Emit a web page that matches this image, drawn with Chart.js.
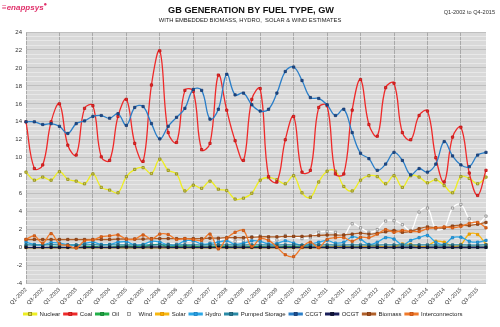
<!DOCTYPE html>
<html><head><meta charset="utf-8">
<script src="https://cdn.jsdelivr.net/npm/chart.js@4.4.1/dist/chart.umd.min.js"></script>
<style>
html,body{margin:0;padding:0;background:#fff;}
#wrap{position:relative;width:500px;height:327px;font-family:"Liberation Sans",Arial,sans-serif;}
#c{position:absolute;left:0;top:0;}
.t{position:absolute;white-space:nowrap;}
</style></head>
<body><div id="wrap">
<canvas id="c" width="500" height="327"></canvas>
<div class="t" style="left:0;top:5px;width:502px;text-align:center;font-size:9.2px;font-weight:bold;color:#111;">GB GENERATION BY FUEL TYPE, GW</div>
<div class="t" style="left:0;top:16.5px;width:500px;text-align:center;font-size:5.8px;color:#222;">WITH EMBEDDED BIOMASS, HYDRO,&nbsp; SOLAR &amp; WIND ESTIMATES</div>
<div class="t" style="right:5px;top:8.5px;font-size:5.6px;color:#333;">Q1-2002 to Q4-2015</div>
<div class="t" style="left:2px;top:1px;font-size:8px;font-weight:bold;color:#e0306a;font-style:italic;">&#8801;enappsys<span style="font-size:6px;vertical-align:super;">&#9679;</span></div>
</div>
<script>
const categories = ["Q1-2002","Q2-2002","Q3-2002","Q4-2002","Q1-2003","Q2-2003","Q3-2003","Q4-2003","Q1-2004","Q2-2004","Q3-2004","Q4-2004","Q1-2005","Q2-2005","Q3-2005","Q4-2005","Q1-2006","Q2-2006","Q3-2006","Q4-2006","Q1-2007","Q2-2007","Q3-2007","Q4-2007","Q1-2008","Q2-2008","Q3-2008","Q4-2008","Q1-2009","Q2-2009","Q3-2009","Q4-2009","Q1-2010","Q2-2010","Q3-2010","Q4-2010","Q1-2011","Q2-2011","Q3-2011","Q4-2011","Q1-2012","Q2-2012","Q3-2012","Q4-2012","Q1-2013","Q2-2013","Q3-2013","Q4-2013","Q1-2014","Q2-2014","Q3-2014","Q4-2014","Q1-2015","Q2-2015","Q3-2015","Q4-2015"];

const nuclear = [8.4,7.5,7.85,7.5, 8.45,7.6,7.4,7.1, 8.2,6.7,6.4,6.1, 7.9,8.7,8.9,8.25, 9.85,8.6,8.2,6.3, 6.95,6.6,7.4,6.5, 6.35,5.4,5.5,6.05, 7.5,7.8,7.55,7.1, 8.0,6.1,5.6,7.3, 8.5,8.5,6.8,6.3, 7.5,8.0,7.9,7.1, 8.0,6.7,8.0,7.85, 7.2,7.55,6.9,6.1, 7.9,7.7,7.1,7.85];
const coal = [14.0,8.8,9.2,14.0, 16.0,11.4,10.3,15.5, 15.8,10.1,9.7,14.6, 16.5,11.6,9.6,18.1, 21.9,12.8,11.7,17.5, 17.4,10.9,11.6,19.2, 15.3,11.9,9.7,16.5, 17.7,7.9,7.3,12.0, 14.6,8.4,8.6,15.6, 15.8,8.2,8.2,15.3, 18.7,13.7,12.4,17.8, 18.3,12.8,12.0,14.7, 15.2,10.0,7.3,12.3, 13.4,8.3,5.8,8.6];
const oil = [0.1,0.05,0.05,0.1, 0.1,0.05,0.05,0.1, 0.1,0.05,0.05,0.1, 0.15,0.1,0.1,0.3, 0.35,0.1,0.1,0.2, 0.15,0.05,0.05,0.15, 0.1,0.05,0.05,0.1, 0.1,0.05,0.05,0.1, 0.1,0.05,0.05,0.05, 0.05,0.05,0.05,0.05, 0.05,0.02,0.02,0.02, 0.02,0.02,0.02,0.02, 0.02,0.02,0.02,0.02, 0.02,0.02,0.02,0.02];
const wind = [0.15,0.1,0.1,0.2, 0.2,0.15,0.15,0.25, 0.3,0.2,0.2,0.35, 0.4,0.3,0.3,0.5, 0.55,0.4,0.4,0.65, 0.7,0.5,0.5,0.85, 1.0,0.7,0.75,1.2, 1.3,0.9,0.85,1.35, 1.25,1.0,1.1,1.7, 1.8,1.7,1.35,2.65, 2.2,1.7,2.0,2.95, 3.0,2.55,1.9,3.95, 4.4,2.1,2.2,4.4, 4.8,3.2,2.65,3.5];
const solar = [0,0,0,0, 0,0,0,0, 0,0,0,0, 0,0,0,0, 0,0,0,0, 0,0,0,0, 0,0,0,0, 0,0,0,0, 0,0,0,0, 0.02,0.08,0.07,0.02, 0.05,0.2,0.2,0.05, 0.1,0.4,0.35,0.1, 0.2,0.7,0.6,0.15, 0.35,1.5,1.45,0.35];
const hydro = [0.6,0.35,0.3,0.55, 0.5,0.3,0.25,0.45, 0.6,0.35,0.35,0.6, 0.65,0.3,0.35,0.7, 0.6,0.3,0.3,0.75, 0.75,0.4,0.45,0.6, 0.75,0.35,0.5,0.75, 0.7,0.4,0.45,0.75, 0.5,0.25,0.4,0.6, 0.8,0.5,0.6,1.2, 0.95,0.35,0.6,1.1, 0.95,0.3,0.8,1.1, 1.35,0.6,0.35,1.1, 1.15,0.7,0.6,0.8];
const pumped = [0.3,0.28,0.3,0.32, 0.3,0.28,0.3,0.3, 0.32,0.28,0.3,0.3, 0.3,0.28,0.28,0.3, 0.32,0.3,0.28,0.3, 0.3,0.28,0.3,0.3, 0.3,0.28,0.28,0.3, 0.3,0.28,0.28,0.3, 0.3,0.28,0.28,0.3, 0.3,0.28,0.28,0.3, 0.3,0.28,0.28,0.3, 0.3,0.28,0.28,0.3, 0.3,0.28,0.28,0.3, 0.3,0.28,0.28,0.3];
const ccgt = [14.0,14.0,13.7,13.8, 13.5,12.7,13.8,14.1, 14.6,14.7,14.4,14.9, 13.6,15.6,15.7,13.8, 12.1,13.5,14.5,15.5, 17.6,17.5,14.3,15.4, 19.3,17.0,17.2,15.9, 15.2,15.4,17.2,19.6, 20.1,18.6,16.7,16.6, 15.9,14.7,15.4,12.8, 10.5,9.9,8.6,9.3, 10.6,9.7,8.1,8.8, 8.4,9.3,11.8,10.2, 9.2,9.0,10.3,10.6];
const ocgt = [0.03,0.03,0.03,0.03, 0.03,0.03,0.03,0.03, 0.03,0.03,0.03,0.03, 0.05,0.03,0.03,0.05, 0.05,0.03,0.03,0.03, 0.03,0.03,0.03,0.03, 0.03,0.03,0.03,0.03, 0.03,0.03,0.03,0.03, 0.03,0.03,0.03,0.03, 0.03,0.03,0.03,0.03, 0.03,0.03,0.03,0.03, 0.03,0.03,0.03,0.03, 0.03,0.03,0.03,0.03, 0.03,0.03,0.03,0.03];
const biomass = [0.9,0.9,0.9,0.9, 0.9,0.9,0.9,0.9, 0.9,0.9,0.9,0.95, 0.95,0.95,0.95,1.0, 1.0,1.0,1.0,1.0, 1.0,1.0,1.05,1.05, 1.1,1.1,1.1,1.15, 1.2,1.2,1.2,1.25, 1.25,1.25,1.3,1.35, 1.4,1.4,1.4,1.5, 1.6,1.5,1.6,1.75, 1.9,1.7,1.8,2.1, 2.3,2.2,2.2,2.4, 2.5,2.45,2.6,2.8];
const interconnectors = [0.9,1.3,0.5,1.55, 0.4,0.25,-0.05,0.75, 0.85,1.2,1.3,1.4, 0.95,0.95,1.4,0.95, 1.5,1.45,0.9,1.0, 0.9,0.8,1.5,-0.15, 1.05,1.7,1.9,0.1, 1.0,0.8,0.05,-0.8, -1.0,0.05,0.6,0.0, 0.9,1.1,1.1,0.7, 1.15,1.1,1.5,2.0, 1.7,1.9,1.8,1.8, 2.1,2.2,2.3,2.2, 2.35,2.7,2.8,2.2];

const yTicks = [-4,-2,0,2,4,6,8,10,12,14,16,18,20,22,24];

function ds(label, data, line, pfill, pborder, extra) {
  return Object.assign({
    label, data, borderColor: line, backgroundColor: line,
    pointBackgroundColor: pfill, pointBorderColor: pborder,
    pointStyle: 'rect', pointRadius: 1.6, pointBorderWidth: 0.8,
    borderWidth: 1.3, tension: 0.4, fill: false
  }, extra || {});
}
const datasets = [
  ds('Nuclear', nuclear, '#eeee22', '#d4d060', '#8e8a10'),
  ds('Coal', coal, '#ee2a2a', '#e23030', '#c01010'),
  ds('Oil', oil, '#22b04a', '#22a040', '#108030'),
  ds('Wind', wind, '#ffffff', '#f4f4f4', '#8a8a8a', {pointBorderWidth: 0.8}),
  ds('Solar', solar, '#f8b810', '#f8b000', '#e09000'),
  ds('Hydro', hydro, '#2aa8e8', '#2a9ee0', '#1a80c0'),
  ds('Pumped Storage', pumped, '#2a8aa6', '#2a7890', '#1a5a70'),
  ds('CCGT', ccgt, '#2a7ec8', '#1e4c8c', '#163a70'),
  ds('OCGT', ocgt, '#1a1f5a', '#10143c', '#0a0c28'),
  ds('Biomass', biomass, '#b0602a', '#a05020', '#803810'),
  ds('Interconnectors', interconnectors, '#f07a2a', '#e86a20', '#c05010')
];
datasets.forEach((d, i) => { d.order = -i; });

const bgPlugin = {
  id: 'bg',
  beforeDraw(chart) {
    const {ctx, chartArea: a} = chart;
    ctx.save();
    ctx.fillStyle = '#d9d9d9';
    ctx.fillRect(a.left, a.top, a.right - a.left, a.bottom - a.top);
    ctx.restore();
  },
  afterDraw(chart) {
    const lg = chart.legend;
    if (!lg || !lg.legendHitBoxes) return;
    const ctx = chart.ctx;
    const bw = lg.options.labels.boxWidth;
    lg.legendItems.forEach((it, i) => {
      const hb = lg.legendHitBoxes[i];
      const d = chart.data.datasets[it.datasetIndex];
      const cx = hb.left + bw / 2, cy = hb.top + hb.height / 2;
      ctx.save();
      ctx.fillStyle = d.pointBackgroundColor;
      ctx.strokeStyle = d.pointBorderColor;
      ctx.lineWidth = 0.8;
      ctx.fillRect(cx - 1.5, cy - 1.5, 3, 3);
      ctx.strokeRect(cx - 1.5, cy - 1.5, 3, 3);
      ctx.restore();
    });
  }
};

new Chart(document.getElementById('c'), {
  type: 'line',
  data: { labels: categories, datasets },
  plugins: [bgPlugin],
  options: {
    responsive: false, animation: false,
    devicePixelRatio: 1,
    layout: { padding: { left: 0, right: 14, top: 32, bottom: 0 } },
    plugins: {
      title: { display: false },
      tooltip: { enabled: false },
      legend: {
        position: 'bottom',
        labels: {
          boxWidth: 13, boxHeight: 1.5, padding: 3.5,
          color: '#222', font: { family: 'Liberation Sans', size: 6 },
          sort: (a, b) => a.datasetIndex - b.datasetIndex
        }
      }
    },
    scales: {
      x: {
        offset: false,
        grid: {
          drawTicks: false,
          color: c => (c.index % 4 === 0 ? '#a9a9a9' : 'rgba(0,0,0,0)'),
          lineWidth: 1
        },
        border: { display: false },
        ticks: {
          autoSkip: false, minRotation: 45, maxRotation: 45, padding: 3,
          color: '#333', font: { family: 'Liberation Sans', size: 5.5 },
          callback: function (v, i) { return i % 2 === 0 ? categories[i] : ''; }
        },
        afterFit: s => { s.height = 24; }
      },
      y: {
        min: -4, max: 24,
        grid: {
          drawTicks: false,
          color: c => {
            const v = c.tick.value;
            if (Math.abs(v) < 1e-9) return '#9a9a9a';
            return yTicks.includes(v) ? '#b9b9b9' : '#ececec';
          },
          lineWidth: c => (Math.abs(c.tick.value) < 1e-9 ? 3 : 0.8)
        },
        border: { display: false },
        ticks: {
          stepSize: 0.5, autoSkip: false, padding: 4,
          color: '#333', font: { family: 'Liberation Sans', size: 6 },
          callback: v => (yTicks.includes(v) ? String(v) : '')
        },
        afterFit: s => { s.width = 26; }
      }
    }
  }
});
</script>
</body></html>
